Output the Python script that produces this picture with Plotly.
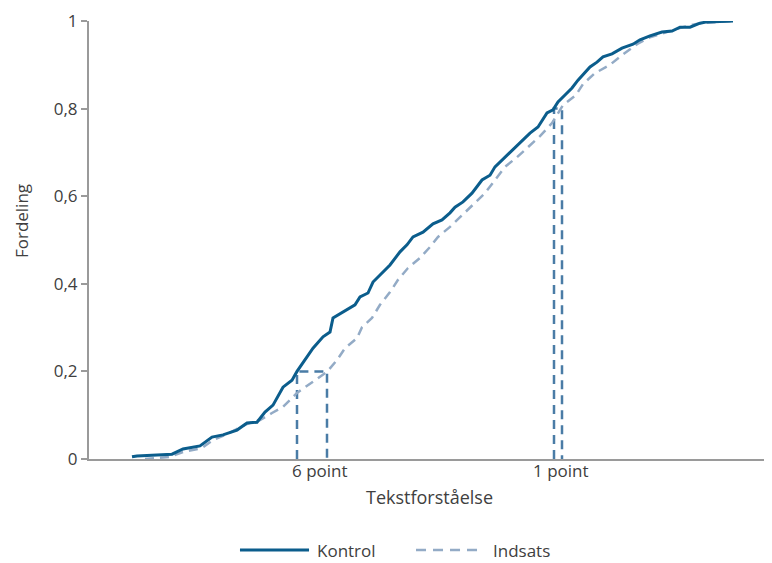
import plotly.graph_objects as go

# Test score scale (points); cumulative distribution values
kontrol_x = [8.6, 9.6, 16.6, 18.8, 22.2, 24.6, 26.8, 29.6, 31.6, 33.6, 35.2, 36.8, 38.8, 40.6, 41.6,
             42.2, 44.8, 46.8, 48.2, 48.8, 50.8, 53.2, 54.2, 55.8, 56.8, 58.6, 60.2, 62.2, 63.6, 64.8,
             66.8, 68.8, 70.6, 72.2, 73.2, 74.8, 76.6, 78.6, 80.2, 81.2, 83.2, 84.2, 85.8, 88.2, 89.8,
             91.6, 92.8, 93.8, 95.2, 96.6, 97.8, 100.2, 101.6, 102.8, 104.6, 106.6, 108.8, 110.2, 112.2,
             114.6, 116.6, 118.2, 120.2, 122.2, 123.6, 128.8]
kontrol_y = [0.005, 0.007, 0.011, 0.023, 0.030, 0.050, 0.055, 0.066, 0.082, 0.084, 0.107, 0.123, 0.164, 0.180, 0.200,
             0.210, 0.253, 0.279, 0.290, 0.322, 0.336, 0.352, 0.370, 0.379, 0.404, 0.425, 0.443, 0.473, 0.489, 0.507,
             0.518, 0.537, 0.546, 0.562, 0.575, 0.587, 0.607, 0.637, 0.648, 0.667, 0.689, 0.701, 0.717, 0.744, 0.758,
             0.790, 0.797, 0.815, 0.831, 0.847, 0.865, 0.895, 0.906, 0.918, 0.925, 0.938, 0.947, 0.957, 0.966,
             0.975, 0.977, 0.986, 0.986, 0.995, 0.998, 1.0]

indsats_x = [11.2, 16.2, 18.8, 22.6, 24.8, 27.6, 31.6, 34.2, 36.6, 38.8, 41.6, 44.8, 47.6, 49.6, 51.2,
             53.6, 54.6, 56.6, 58.2, 60.2, 61.8, 63.8, 66.2, 68.2, 69.8, 72.2, 74.6, 76.8, 79.2, 81.2,
             83.2, 85.6, 87.8, 90.2, 92.6, 94.8, 97.4, 98.8, 101.2, 104.2, 106.6, 109.6, 112.2, 115.6,
             118.8, 122.2, 125.8, 128.8]
indsats_y = [0.0, 0.005, 0.016, 0.025, 0.043, 0.057, 0.080, 0.089, 0.105, 0.119, 0.151, 0.176, 0.199, 0.226, 0.253,
             0.276, 0.301, 0.322, 0.352, 0.381, 0.409, 0.436, 0.459, 0.484, 0.507, 0.530, 0.557, 0.580, 0.607, 0.637,
             0.667, 0.689, 0.712, 0.737, 0.767, 0.808, 0.831, 0.856, 0.881, 0.900, 0.922, 0.947, 0.963, 0.975,
             0.986, 0.995, 0.998, 1.0]

# Reference gaps at the 20th and 80th percentile
gap_levels = [0.2, 0.8]
gap_kontrol_x = [41.6, 93.0]
gap_indsats_x = [47.6, 94.6]
gap_labels = ["6 point", "1 point"]
gap_label_x = [46.2, 94.4]

y_ticks = [0, 0.2, 0.4, 0.6, 0.8, 1]
y_tick_text = ["0", "0,2", "0,4", "0,6", "0,8", "1"]

series_names = ["Kontrol", "Indsats"]
series_colors = ["#0b5d8c", "#93abc6"]

FONT = "Open Sans"
TXT = "#404040"
AX = "#9a9a9a"

fig = go.Figure()

for xk, xi, lv in zip(gap_kontrol_x, gap_indsats_x, gap_levels):
    fig.add_trace(go.Scatter(
        x=[xk, xk, xi, xi], y=[0, lv, lv, 0], mode="lines",
        line=dict(color="#4a7ca6", width=2.5, dash="9px,6px"),
        showlegend=False, hoverinfo="skip"))

fig.add_trace(go.Scatter(
    x=indsats_x, y=indsats_y, mode="lines", name=series_names[1],
    line=dict(color=series_colors[1], width=2.5, dash="9px,6px"), showlegend=False))
fig.add_trace(go.Scatter(
    x=kontrol_x, y=kontrol_y, mode="lines", name=series_names[0],
    line=dict(color=series_colors[0], width=3), showlegend=False))

for lab, lx in zip(gap_labels, gap_label_x):
    fig.add_annotation(x=lx, y=0, xref="x", yref="y", text=lab, showarrow=False,
                       yanchor="top", xanchor="center", yshift=2,
                       font=dict(family=FONT, size=17, color=TXT))

fig.add_annotation(x=0.5, y=-0.0868, xref="paper", yref="paper", text="Tekstforståelse",
                   showarrow=False, xanchor="center", yanchor="middle",
                   font=dict(family=FONT, size=18, color=TXT))
fig.add_annotation(x=-0.1, y=0.543, xref="paper", yref="paper", text="Fordeling",
                   showarrow=False, xanchor="center", yanchor="middle", textangle=-90,
                   borderpad=0, font=dict(family=FONT, size=17, color=TXT))

# custom legend (wide line samples as in the original)
leg_y = -0.2078
leg_items = [(0.2217, 0.3231, 0.3333, "solid", 3), (0.4802, 0.5742, 0.5918, "10px,7px", 2.5)]
for (x0, x1, xt, dash, w), name, col in zip(leg_items, series_names, series_colors):
    fig.add_shape(type="line", xref="paper", yref="paper", x0=x0, x1=x1, y0=leg_y, y1=leg_y,
                  line=dict(color=col, width=w, dash=dash))
    fig.add_annotation(x=xt, y=leg_y, xref="paper", yref="paper", text=name, showarrow=False,
                       xanchor="left", yanchor="middle", borderpad=0,
                       font=dict(family=FONT, size=17, color=TXT))

fig.update_layout(
    width=764, height=555,
    margin=dict(l=81, r=2, t=13, b=104),
    paper_bgcolor="white", plot_bgcolor="white",
    font=dict(family=FONT, size=16, color=TXT),
    showlegend=False,
    xaxis=dict(range=[0, 136.2], showgrid=False, zeroline=False, showticklabels=False,
               ticks="", showline=True, linecolor=AX, linewidth=2),
    yaxis=dict(range=[0, 1], showgrid=False, zeroline=False, tickvals=y_ticks,
               ticktext=y_tick_text, ticks="outside", ticklen=6, tickcolor=AX, tickwidth=2,
               showline=True, linecolor=AX, linewidth=2,
               tickfont=dict(family=FONT, size=17, color=TXT)),
)

fig.write_html("out.html")
